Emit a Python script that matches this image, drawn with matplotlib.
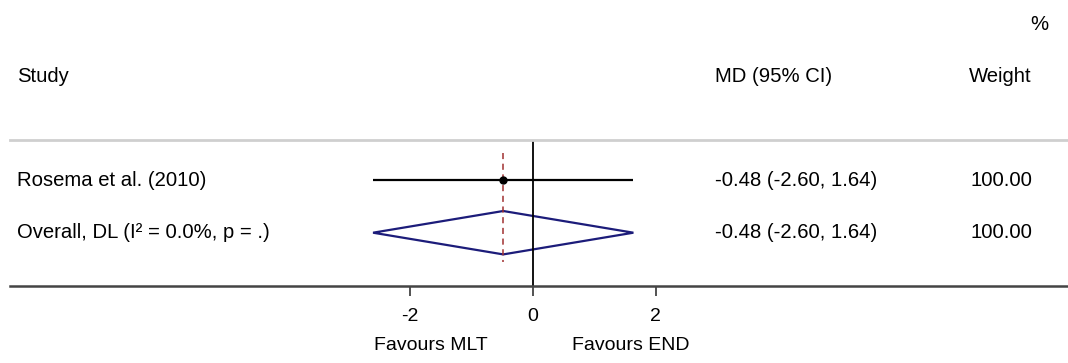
"""Forest plot: MLT vs END, mean difference with 95% CI."""

import matplotlib.pyplot as plt
from matplotlib.patches import Polygon

plt.rcParams["font.family"] = ["Liberation Sans", "DejaVu Sans"]

# Study-level and pooled estimates
studies = ["Rosema et al. (2010)"]
study_md = [-0.48]
study_lo = [-2.60]
study_hi = [1.64]
study_weight = [100.00]

overall_label = "Overall, DL (I² = 0.0%, p = .)"
overall_md = -0.48
overall_lo = -2.60
overall_hi = 1.64
overall_weight = 100.00

xticks = [-2, 0, 2]
left_label = "Favours MLT"
right_label = "Favours END"

W, H = 1068, 363
fig = plt.figure(figsize=(W / 100, H / 100), dpi=100)


def fx(px):
    return px / W


def fy(py):
    return 1 - py / H


# plot area runs from the header rule (y=140) down to the axis (y=286)
ax = fig.add_axes([fx(10), fy(286), fx(1058), (286 - 140) / H])
px_per_unit = 61.4
ax.set_xlim((10 - 532.7) / px_per_unit, (1068 - 532.7) / px_per_unit)
row_px = 52.7
ax.set_ylim(1 + (286 - 180) / row_px, 1 - (180 - 140) / row_px)

for side in ["left", "right"]:
    ax.spines[side].set_visible(False)
ax.spines["top"].set_color("#cfcfcf")
ax.spines["top"].set_linewidth(2.0)
ax.spines["bottom"].set_color("#444444")
ax.spines["bottom"].set_linewidth(1.8)
ax.set_yticks([])
ax.set_xticks(xticks)
ax.set_xticklabels([str(t) for t in xticks], fontsize=14)
ax.tick_params(axis="x", direction="out", length=7, width=1.3,
               color="#444444", pad=9)

# line of no effect
ax.axvline(0, color="black", lw=1.3)

# pooled estimate reference line
ax.vlines(overall_md, 1 - 27 / row_px, 1 + 82 / row_px,
          colors="#a03030", linestyles=(0, (4, 3)), lw=1.1)

# individual studies
for i, (md, lo, hi) in enumerate(zip(study_md, study_lo, study_hi)):
    y = i + 1
    ax.plot([lo, hi], [y, y], color="black", lw=1.6, solid_capstyle="butt")
    ax.plot(md, y, "o", color="black", markersize=5)

# pooled diamond
yd = len(studies) + 1
half = 21.7 / row_px
diamond = Polygon([[overall_lo, yd], [overall_md, yd - half],
                   [overall_hi, yd], [overall_md, yd + half]],
                  closed=True, fill=False, edgecolor="#1c1c7a", lw=1.6)
ax.add_patch(diamond)

# table text
fs = 14.6
fig.text(fx(1039), fy(24), "%", fontsize=fs, ha="center", va="center")
fig.text(fx(17), fy(76), "Study", fontsize=fs, ha="left", va="center")
fig.text(fx(715), fy(76), "MD (95% CI)", fontsize=fs, ha="left", va="center")
fig.text(fx(1032), fy(76), "Weight", fontsize=fs, ha="right", va="center")

rows = [(s, m, l, h, w) for s, m, l, h, w in
        zip(studies, study_md, study_lo, study_hi, study_weight)]
rows.append((overall_label, overall_md, overall_lo, overall_hi, overall_weight))
for i, (name, md, lo, hi, w) in enumerate(rows):
    ypx = 180 + i * row_px
    fig.text(fx(17), fy(ypx), name, fontsize=fs, ha="left", va="center")
    fig.text(fx(715), fy(ypx), f"{md:.2f} ({lo:.2f}, {hi:.2f})",
             fontsize=fs, ha="left", va="center")
    fig.text(fx(1032), fy(ypx), f"{w:.2f}", fontsize=fs, ha="right", va="center")

fig.text(fx(431), fy(346), left_label, fontsize=14, ha="center", va="center")
fig.text(fx(631), fy(346), right_label, fontsize=14, ha="center", va="center")

fig.savefig("out.png", dpi=100)
